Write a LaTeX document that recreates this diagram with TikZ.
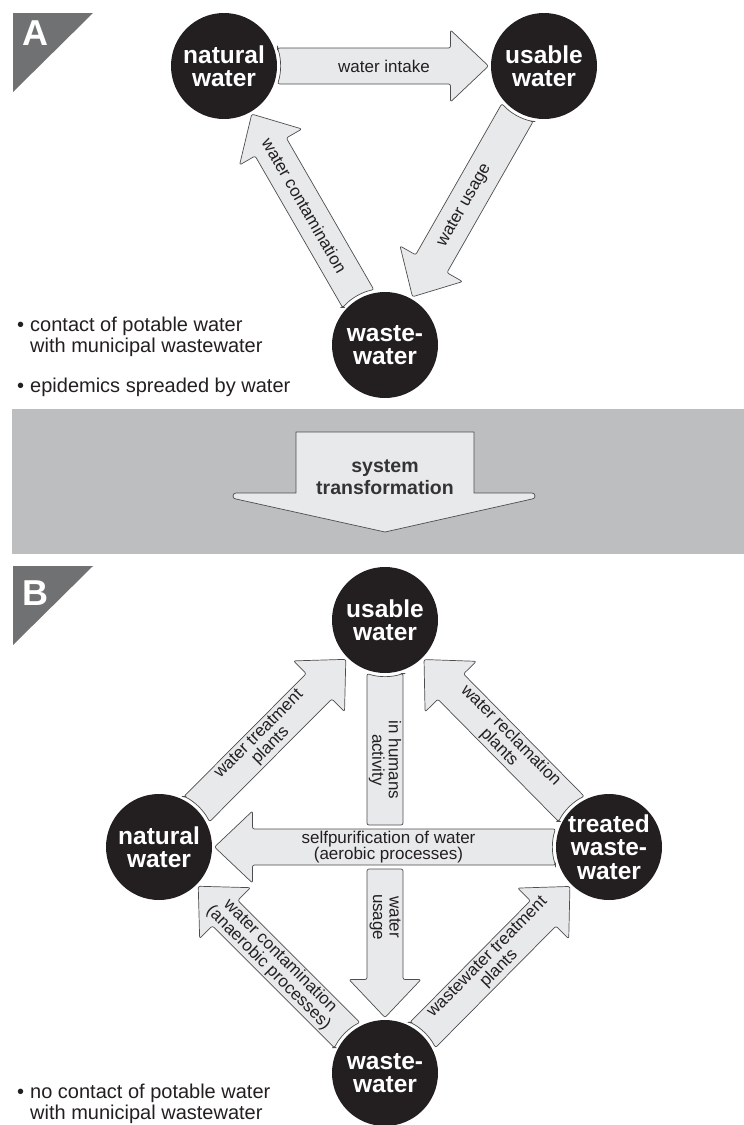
\documentclass[tikz,border=0pt]{standalone}
\usepackage{fontspec}
\setmainfont{Liberation Sans}
\usetikzlibrary{calc}
\definecolor{circfill}{RGB}{35,31,32}
\definecolor{arrfill}{RGB}{232,233,235}
\definecolor{arrline}{RGB}{77,77,79}
\definecolor{trifill}{RGB}{112,113,115}
\definecolor{bandfill}{RGB}{189,190,192}
\definecolor{txt}{RGB}{35,31,32}
\definecolor{txtdark}{RGB}{51,51,51}

% frame between two named nodes: angle and distance of centers
\newcommand\getframe[2]{%
  \pgfpointanchor{#1}{center}\pgfgetlastxy\xa\ya
  \pgfpointanchor{#2}{center}\pgfgetlastxy\xb\yb
  \pgfmathsetmacro\faang{atan2(\yb-\ya,\xb-\xa)}%
  \pgfmathsetmacro\falen{veclen(\xb-\xa,\yb-\ya)}%
}
% broad arrow from node #1 to node #2, tail hugging circle #1
\newcommand\fatarrow[2]{%
  \getframe{#1}{#2}%
  \begin{scope}[shift={(#1.center)},rotate=\faang]
    \pgfmathsetmacro\tipx{\falen-\tipgap}%
    \pgfmathsetmacro\basex{\tipx-\headlen}%
    \draw[fat] (\tailx,\bodyw) -- (\basex,\bodyw) -- (\basex,\headw) -- (\tipx,0)
      -- (\basex,-\headw) -- (\basex,-\bodyw) -- (\tailx,-\bodyw)
      arc[start angle=-\tailang, end angle=\tailang, radius=\tailr] -- cycle;
  \end{scope}}

\begin{document}
\begin{tikzpicture}[x=1pt,y=1pt,
  circ/.style={circle, fill=circfill, minimum size=106pt, inner sep=0pt, text=white, align=center,
    font=\bfseries\fontsize{24.5}{23.5}\selectfont},
  fat/.style={fill=arrfill, draw=arrline, line width=0.7pt, rounded corners=2pt, line join=round},
  lbl/.style={align=center, text=txt, inner sep=0pt, font=\fontsize{17}{16.5}\selectfont},
  bul/.style={anchor=base west, text=txt, inner sep=0pt, font=\fontsize{20}{21}\selectfont},
  tri/.style={fill=trifill},
  letter/.style={text=white, inner sep=0pt, font=\bfseries\fontsize{36}{36}\selectfont},
  trans/.style={anchor=base, text=txtdark, inner sep=0pt, font=\bfseries\fontsize{19.5}{22}\selectfont}
]
\useasboundingbox (0,0) rectangle (744,-1125);
\pgfmathsetmacro\bodyw{18}
\pgfmathsetmacro\headw{36}
\pgfmathsetmacro\headlen{38}
\pgfmathsetmacro\tipgap{55.5}
\pgfmathsetmacro\tailr{56.5}
\pgfmathsetmacro\tailx{sqrt(\tailr*\tailr-\bodyw*\bodyw)}
\pgfmathsetmacro\tailang{asin(\bodyw/\tailr)}

% ---------- Part A ----------
\fill[tri] (13,-13) -- (93,-13) -- (13,-92) -- cycle;
\node[letter] (letA) at (35,-33.5) {A};

\node[circ] (nA) at (224,-66) {natural\\water};
\node[circ] (uA) at (544,-66) {usable\\water};
\node[circ] (wA) at (385,-345) {waste-\\water};

\fatarrow{nA}{uA}
\fatarrow{uA}{wA}
\fatarrow{wA}{nA}

\path (nA.center) -- node[lbl, pos=0.5] (lA1) {water intake} (uA.center);
\path (wA.center) -- node[lbl, sloped, pos=0.5] (lA2) {water usage} (uA.center);
\path (nA.center) -- node[lbl, sloped, pos=0.5] (lA3) {water contamination} (wA.center);

\node[bul] (bA1) at (17,-331) {•};
\node[bul] (tA1) at (30,-331) {contact of potable water};
\node[bul] (tA2) at (30,-352) {with municipal wastewater};
\node[bul] (bA2) at (17,-392) {•};
\node[bul] (tA3) at (30,-392) {epidemics spreaded by water};

% ---------- transformation band ----------
\fill[bandfill] (12,-409) rectangle (744,-554);
\draw[fat, rounded corners=0pt] (296,-432) -- (474,-432) -- (474,-493) -- (532,-493)
  arc[start angle=90, end angle=-90, radius=3] -- (385,-532) -- (236,-499)
  arc[start angle=270, end angle=90, radius=3] -- (296,-493) -- cycle;
\node[trans] (tr1) at (385,-472) {system};
\node[trans] (tr2) at (385,-494) {transformation};

% ---------- Part B ----------
\fill[tri] (13,-566) -- (93,-566) -- (13,-645) -- cycle;
\node[letter] (letB) at (35,-593) {B};

\node[circ] (uB) at (385,-620) {usable\\water};
\node[circ] (nB) at (159,-847) {natural\\water};
\node[circ] (tB) at (609,-847) {treated\\waste-\\water};
\node[circ] (wB) at (385,-1073) {waste-\\water};

\fatarrow{nB}{uB}
\fatarrow{tB}{uB}
\fatarrow{tB}{nB}
\fatarrow{wB}{nB}
\fatarrow{wB}{tB}

% split vertical arrow usable -> wastewater
\getframe{uB}{wB}
\begin{scope}[shift={(uB.center)},rotate=\faang]
  \pgfmathsetmacro\tipx{\falen-\tipgap}
  \pgfmathsetmacro\basex{\tipx-\headlen}
  \draw[fat] (\tailx,\bodyw) -- (205,\bodyw) -- (205,-\bodyw) -- (\tailx,-\bodyw)
    arc[start angle=-\tailang, end angle=\tailang, radius=\tailr] -- cycle;
  \draw[fat] (249,\bodyw) -- (\basex,\bodyw) -- (\basex,\headw) -- (\tipx,0)
    -- (\basex,-\headw) -- (\basex,-\bodyw) -- (249,-\bodyw) -- cycle;
\end{scope}

\path (nB.center) -- node[lbl, sloped, pos=0.47] (lB1) {water treatment\\plants} (uB.center);
\path (uB.center) -- node[lbl, sloped, pos=0.535] (lB2) {water reclamation\\plants} (tB.center);
\path (wB.center) -- node[lbl, sloped, pos=0.485] (lB3) {wastewater treatment\\plants} (tB.center);
\path (nB.center) -- node[lbl, sloped, pos=0.51] (lB4) {water contamination\\(anaerobic processes)} (wB.center);
\path (nB.center) -- node[lbl, pos=0.51] (lB5) {selfpurification of water\\(aerobic processes)} (tB.center);
\path (uB.center) -- node[lbl, sloped, pos=0.309] (lB6) {in humans\\activity} (wB.center);
\path (uB.center) -- node[lbl, sloped, pos=0.656] (lB7) {water\\usage} (wB.center);

\node[bul] (bB1) at (17,-1098) {•};
\node[bul] (tB1) at (30,-1098) {no contact of potable water};
\node[bul] (tB2) at (30,-1119) {with municipal wastewater};
\end{tikzpicture}
\end{document}
